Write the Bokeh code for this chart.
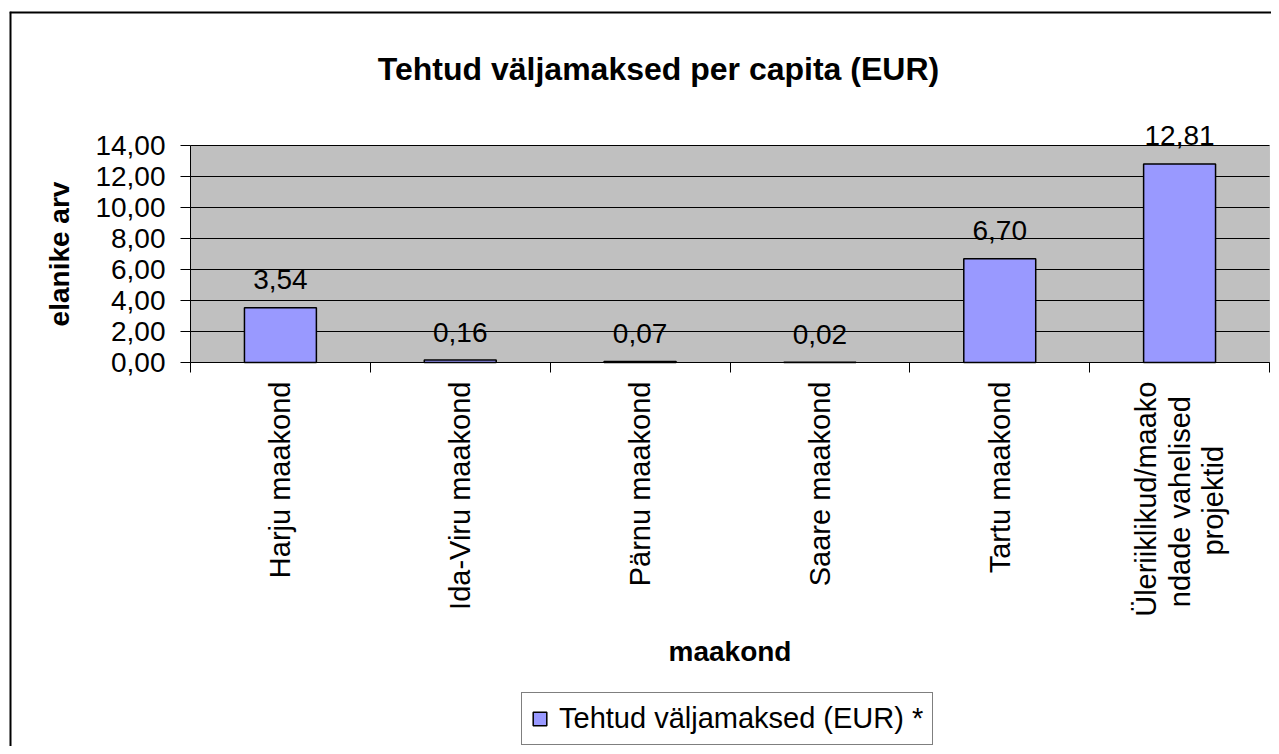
from bokeh.plotting import figure
from bokeh.models import (Range1d, FixedTicker, LabelSet, ColumnDataSource,
                          Legend, LegendItem, BoxAnnotation, Span, Label)
from bokeh.embed import file_html
from bokeh.resources import INLINE
from bokeh.core.properties import value
import math

# ---- data ----
title_text = "Tehtud väljamaksed per capita (EUR)"
categories = ["Harju maakond", "Ida-Viru maakond", "Pärnu maakond",
              "Saare maakond", "Tartu maakond",
              "Üleriiklikud/maakondade vahelised projektid"]
# axis labels as wrapped on the chart (padding keeps the lines centred)
tick_labels = ["Harju maakond", "Ida-Viru maakond", "Pärnu maakond",
               "Saare maakond", "Tartu maakond",
               "Üleriiklikud/maako\nndade vahelised\u2002\nprojektid" + "\u00a0" * 8]
values = [3.54, 0.16, 0.07, 0.02, 6.70, 12.81]
y_ticks = [0, 2, 4, 6, 8, 10, 12, 14]
series_name = "Tehtud väljamaksed (EUR) *"
x_axis_title = "maakond"
y_axis_title = "elanike arv"


def fmt(v):
    return f"{v:.2f}".replace(".", ",")


n = len(categories)
centers = [i + 0.5 for i in range(n)]
bounds = list(range(n + 1))
ymin, ymax = y_ticks[0], y_ticks[-1]

# ---- layout (pixels) ----
FONT = "Liberation Sans"
W, H = 1271, 746
FRAME_L, FRAME_T = 9, 11           # chart border
PLOT_L, PLOT_R, PLOT_T, PLOT_B = 190, 1269, 145, 362   # grey plot area
ux = (PLOT_R - PLOT_L) / n
uy = (PLOT_B - PLOT_T) / (ymax - ymin)
xr = Range1d(0 - (PLOT_L - FRAME_L) / ux, n + (W - PLOT_R) / ux)
yr = Range1d(ymin - (H - PLOT_B) / uy, ymax + (PLOT_T - FRAME_T) / uy)

src = ColumnDataSource(dict(x=centers, top=values,
                            label=[fmt(v) for v in values], cat=categories))

p = figure(width=W, height=H, x_range=xr, y_range=yr, title=None,
           output_backend="svg", toolbar_location=None,
           min_border_left=FRAME_L, min_border_right=0,
           min_border_top=FRAME_T, min_border_bottom=0)
p.background_fill_color = "white"
p.border_fill_color = "white"
p.outline_line_color = None

# chart border (left / top edges; the others lie outside the window)
p.add_layout(Span(location=xr.start, dimension="height",
                  line_color="black", line_width=4))
p.add_layout(Span(location=yr.end, dimension="width",
                  line_color="black", line_width=4))

# grey plot area
p.add_layout(BoxAnnotation(left=0, right=n, bottom=ymin, top=ymax,
                           fill_color="#C0C0C0", fill_alpha=1,
                           line_color="#808080", line_width=1,
                           level="image"))

# grid
g = p.ygrid[0]
g.ticker = FixedTicker(ticks=y_ticks)
g.grid_line_color = "black"
g.grid_line_width = 1
if "cross_bounds" in g.properties():
    g.cross_bounds = (0, n)
    g.bounds = (ymin, ymax)
else:
    g.visible = False
    p.segment(x0=[0] * len(y_ticks), x1=[n] * len(y_ticks), y0=y_ticks,
              y1=y_ticks, line_color="black", line_width=1)
p.xgrid.visible = False

bars = p.vbar(x="x", top="top", width=0.4, source=src,
              fill_color="#9999FF", line_color="black", line_width=1.5)

# y axis
ya = p.yaxis[0]
ya.fixed_location = 0
ya.bounds = (ymin, ymax)
ya.ticker = FixedTicker(ticks=y_ticks, minor_ticks=[])
ya.major_label_overrides = {t: fmt(t) for t in y_ticks}
ya.major_tick_out = 10
ya.major_tick_in = 0
ya.minor_tick_line_color = None
ya.major_tick_line_color = "black"
ya.axis_line_color = "black"
ya.major_label_text_font = FONT
ya.major_label_text_font_size = "28px"
ya.major_label_text_color = "black"
ya.major_label_standoff = 15
ya.axis_label = y_axis_title
ya.axis_label_text_font = FONT
ya.axis_label_text_font_size = "28px"
ya.axis_label_text_font_style = "bold"
ya.axis_label_text_color = "black"
ya.axis_label_standoff = 17

# x axis: ticks between categories, labels at category centres
xa = p.xaxis[0]
xa.fixed_location = 0
xa.bounds = (0, n)
xa.ticker = FixedTicker(ticks=centers, minor_ticks=bounds)
xa.major_label_overrides = {c: t for c, t in zip(centers, tick_labels)}
xa.major_tick_out = 0
xa.major_tick_in = 0
xa.major_tick_line_color = None
xa.minor_tick_out = 10
xa.minor_tick_in = 0
xa.minor_tick_line_color = "black"
xa.axis_line_color = "black"
xa.major_label_orientation = math.pi / 2
xa.major_label_text_font = FONT
xa.major_label_text_font_size = "29px"
xa.major_label_text_color = "black"
xa.major_label_text_line_height = 1.05
xa.major_label_standoff = 9
xa.axis_label = x_axis_title
xa.axis_label_text_font = FONT
xa.axis_label_text_font_size = "28px"
xa.axis_label_text_font_style = "bold"
xa.axis_label_text_color = "black"
xa.axis_label_standoff = 16

# data labels
p.add_layout(LabelSet(x="x", y="top", text="label", source=src,
                      text_align="center", text_baseline="middle",
                      y_offset=28, text_font=value(FONT),
                      text_font_size="28px", text_color="black"))

# title (inside the chart border)
p.add_layout(Label(x=(658 - PLOT_L) / ux, y=ymin + (PLOT_B - 68) / uy,
                   text=title_text, text_align="center",
                   text_baseline="middle", text_font=FONT,
                   text_font_size="32px", text_font_style="bold",
                   text_color="black"))

# legend
legend = Legend(items=[LegendItem(label=series_name, renderers=[bars])],
                location=(521 - FRAME_L, H - 745), orientation="horizontal",
                label_text_font=FONT, label_text_font_size="29px",
                label_text_color="black",
                glyph_width=17, glyph_height=17, label_standoff=11,
                padding=9, margin=0,
                border_line_color="black", border_line_width=1,
                background_fill_color="white", background_fill_alpha=1)
p.add_layout(legend)

open("out.html", "w").write(file_html(p, INLINE))
